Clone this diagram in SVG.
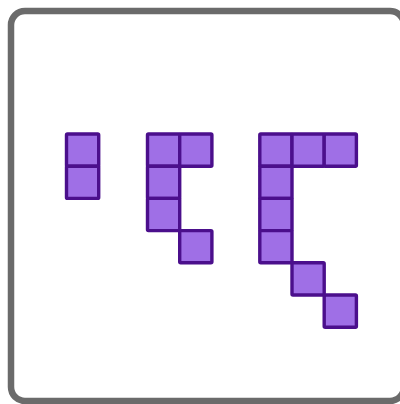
<svg xmlns="http://www.w3.org/2000/svg" width="400" height="404" viewBox="0 0 400 404">
<style>
.frame{fill:#fff;stroke:#6b6b6b;stroke-width:6.5}
.c{fill:#9f6fe6;stroke:#4b0f8c;stroke-width:3.4;stroke-linejoin:round}
</style>
<defs><rect id="sq" width="32.2" height="32.2" rx="1" class="c"/></defs>
<rect class="frame" x="11" y="11" width="393" height="390" rx="14"/>
<g id="shape1">
<use href="#sq" x="66.5" y="134"/>
<use href="#sq" x="66.5" y="166.2"/>
</g>
<g id="shape2">
<use href="#sq" x="147.5" y="134"/>
<use href="#sq" x="179.7" y="134"/>
<use href="#sq" x="147.5" y="166.2"/>
<use href="#sq" x="147.5" y="198.4"/>
<use href="#sq" x="179.7" y="230.6"/>
</g>
<g id="shape3">
<use href="#sq" x="259.8" y="134"/>
<use href="#sq" x="292" y="134"/>
<use href="#sq" x="324.2" y="134"/>
<use href="#sq" x="259.8" y="166.2"/>
<use href="#sq" x="259.8" y="198.4"/>
<use href="#sq" x="259.8" y="230.6"/>
<use href="#sq" x="292" y="262.8"/>
<use href="#sq" x="324.2" y="295"/>
</g>
<g id="connectors"/>
</svg>
